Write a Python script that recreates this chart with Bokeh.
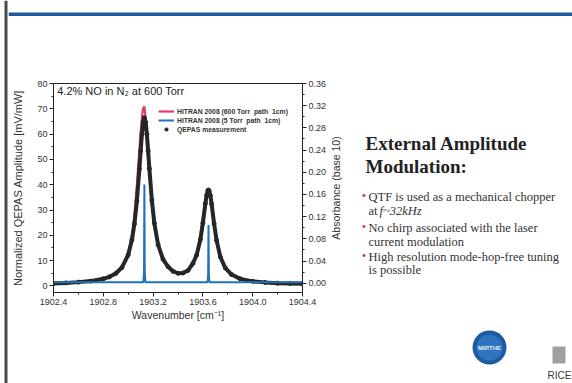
import math
from bokeh.plotting import figure
from bokeh.layouts import row, column
from bokeh.models import (Range1d, LinearAxis, FixedTicker, NumeralTickFormatter,
                          Legend, LegendItem, Label, ColumnDataSource)
from bokeh.core.properties import value
from bokeh.embed import file_html
from bokeh.resources import INLINE

# ---------------- data ----------------
qepas_wn = [1902.40, 1902.50, 1902.60, 1902.70, 1902.80, 1902.85, 1902.90, 1902.95,
            1903.00, 1903.03, 1903.05, 1903.07, 1903.09, 1903.10, 1903.11, 1903.12,
            1903.13, 1903.14, 1903.15, 1903.16, 1903.17, 1903.19, 1903.21, 1903.24,
            1903.28, 1903.32, 1903.36, 1903.40, 1903.44, 1903.48, 1903.52, 1903.55,
            1903.58, 1903.60, 1903.62, 1903.63, 1903.64, 1903.645, 1903.65, 1903.66,
            1903.67, 1903.69, 1903.71, 1903.74, 1903.78, 1903.83, 1903.90, 1904.00,
            1904.10, 1904.20, 1904.30, 1904.40]
qepas_amp = [1.0, 1.2, 1.5, 1.9, 2.8, 3.6, 4.9, 7.3,
             12.3, 18.2, 24.5, 33.6, 46.3, 53.3, 59.9, 64.7,
             66.5, 64.7, 60.0, 53.4, 46.4, 33.9, 24.8, 16.3,
             10.5, 7.6, 5.8, 5.0, 5.1, 6.1, 8.9, 12.2,
             18.4, 24.9, 32.6, 35.8, 37.7, 37.9, 37.6, 35.7,
             32.4, 24.6, 18.0, 11.5, 7.1, 4.5, 2.8, 1.8,
             1.4, 1.1, 1.0, 0.9]

hitran600_wn = [1902.40, 1902.60, 1902.80, 1902.90, 1902.95, 1903.00, 1903.03, 1903.05,
                1903.07, 1903.08, 1903.09, 1903.10, 1903.11, 1903.12, 1903.13, 1903.14,
                1903.15, 1903.16, 1903.17, 1903.19, 1903.21, 1903.24, 1903.28, 1903.32,
                1903.36, 1903.40, 1903.44, 1903.48, 1903.52, 1903.55, 1903.58, 1903.60,
                1903.62, 1903.63, 1903.64, 1903.65, 1903.66, 1903.67, 1903.69, 1903.71,
                1903.74, 1903.78, 1903.83, 1903.90, 1904.00, 1904.20, 1904.40]
hitran600_abs = [0.001, 0.002, 0.008, 0.018, 0.029, 0.055, 0.086, 0.123,
                 0.178, 0.210, 0.242, 0.273, 0.299, 0.315, 0.319, 0.296,
                 0.260, 0.228, 0.196, 0.141, 0.102, 0.066, 0.041, 0.028,
                 0.022, 0.018, 0.019, 0.024, 0.035, 0.054, 0.086, 0.118,
                 0.150, 0.162, 0.169, 0.166, 0.155, 0.139, 0.102, 0.073,
                 0.045, 0.026, 0.015, 0.008, 0.003, 0.001, 0.000]

hitran5_wn = [1902.40, 1903.122, 1903.127, 1903.130, 1903.133, 1903.138,
              1903.637, 1903.642, 1903.645, 1903.648, 1903.653, 1904.40]
hitran5_abs = [0.002, 0.002, 0.020, 0.178, 0.020, 0.002,
               0.002, 0.015, 0.105, 0.015, 0.002, 0.002]

x_ticks = [1902.4, 1902.8, 1903.2, 1903.6, 1904.0, 1904.4]
left_ticks = [0, 10, 20, 30, 40, 50, 60, 70, 80]
right_ticks = [0.00, 0.04, 0.08, 0.12, 0.16, 0.20, 0.24, 0.28, 0.32, 0.36]

heading = ["External Amplitude", "Modulation:"]
bullet_lines = ["QTF is used as a mechanical chopper", "at ",
                "No chirp associated with the laser", "current modulation",
                "High resolution mode-hop-free tuning", "is possible"]
italic_part = "f~32kHz"

# ---------------- page geometry ----------------
W, H = 572, 383
BAR_W = 8          # left strip with the slide border
HEAD_H = 17        # header strip with the blue rule
CHART_W = 321      # chart figure: page x 8 .. 329
TEXT_W = W - BAR_W - CHART_W
BODY_H = H - HEAD_H
FL, FR, FT, FB = 53, 305, 83, 292   # chart frame edges in page pixels
TICK_FONT = "Liberation Sans"


def deco_fig(w, h, x0, y0):
    f = figure(width=w, height=h, output_backend="svg", toolbar_location=None,
               x_range=Range1d(x0, x0 + w), y_range=Range1d(y0 + h, y0),
               x_axis_type=None, y_axis_type=None, min_border=0)
    f.outline_line_color = None
    f.grid.visible = False
    f.background_fill_color = "white"
    f.border_fill_color = "white"
    return f


# left strip
bar = deco_fig(BAR_W, H, 0, 0)
bar.quad(left=[4], right=[7], top=[0], bottom=[H], fill_color="#4a4a4a", line_color=None)

# header strip
head = deco_fig(W - BAR_W, HEAD_H, BAR_W, 0)
head.quad(left=[BAR_W], right=[W], top=[12], bottom=[15.5], fill_color="#1c5a9c", line_color=None)

# ---------------- chart ----------------
p = figure(width=CHART_W, height=BODY_H, output_backend="svg", toolbar_location=None,
           x_range=Range1d(1902.4, 1904.4), y_range=Range1d(-2.6, 80),
           min_border_left=FL - BAR_W, min_border_right=BAR_W + CHART_W - FR,
           min_border_top=FT - HEAD_H, min_border_bottom=H - FB)
p.background_fill_color = "white"
p.border_fill_color = "white"
p.outline_line_color = "#222222"
p.outline_line_width = 1
p.grid.visible = False
p.extra_y_ranges = {"abs": Range1d(-0.0166, 0.36)}


def style_axis(ax):
    ax.major_label_text_font = TICK_FONT
    ax.major_label_text_font_size = "9px"
    ax.major_label_text_color = "#333333"
    ax.axis_label_text_font = TICK_FONT
    ax.axis_label_text_font_size = "10.5px"
    ax.axis_label_text_font_style = "normal"
    ax.axis_label_text_color = "#333333"
    ax.axis_line_color = "#222222"
    ax.major_tick_line_color = "#222222"
    ax.minor_tick_line_color = "#222222"
    ax.major_tick_out = 4
    ax.major_tick_in = 0
    ax.minor_tick_out = 2
    ax.minor_tick_in = 0
    ax.major_label_standoff = 2


style_axis(p.xaxis[0])
style_axis(p.yaxis[0])
p.xaxis[0].ticker = FixedTicker(ticks=x_ticks, minor_ticks=[1902.6, 1903.0, 1903.4, 1903.8, 1904.2])
p.xaxis[0].formatter = NumeralTickFormatter(format="0.0")
p.xaxis[0].axis_label = "Wavenumber [cm\u207b\u00b9]"
p.xaxis[0].axis_label_standoff = 1

p.yaxis[0].ticker = FixedTicker(ticks=left_ticks, minor_ticks=[5, 15, 25, 35, 45, 55, 65, 75])
p.yaxis[0].axis_label = "Normalized QEPAS Amplitude [mV/mW]"
p.yaxis[0].axis_label_text_font_size = "11px"
p.yaxis[0].axis_label_standoff = 10

ra = LinearAxis(y_range_name="abs")
style_axis(ra)
ra.ticker = FixedTicker(ticks=right_ticks,
                        minor_ticks=[0.02, 0.06, 0.10, 0.14, 0.18, 0.22, 0.26, 0.30, 0.34])
ra.formatter = NumeralTickFormatter(format="0.00")
p.add_layout(ra, "right")

red = p.line(hitran600_wn, hitran600_abs, y_range_name="abs", line_color="#e0405e", line_width=2.2)
qsrc = ColumnDataSource(dict(x=qepas_wn, y=qepas_amp))
p.line("x", "y", source=qsrc, line_color="#262626", line_width=4)
blk = p.scatter("x", "y", source=qsrc, size=4, marker="circle",
                fill_color="#262626", line_color="#262626")
blue = p.line(hitran5_wn, hitran5_abs, y_range_name="abs", line_color="#2272b8", line_width=2)

legend = Legend(items=[
    LegendItem(label="HITRAN 2008 (600 Torr  path  1cm)", renderers=[red]),
    LegendItem(label="HITRAN 2008 (5 Torr  path  1cm)", renderers=[blue]),
    LegendItem(label="QEPAS measurement", renderers=[blk]),
], location=(105, 159))
legend.label_text_font = TICK_FONT
legend.label_text_font_size = "6.8px"
legend.label_text_font_style = "bold"
legend.label_text_color = "#333333"
legend.glyph_width = 16
legend.glyph_height = 8
legend.label_height = 8
legend.label_standoff = 3
legend.spacing = 1
legend.padding = 2
legend.margin = 0
legend.border_line_color = None
legend.background_fill_alpha = 0
p.add_layout(legend)

p.add_layout(Label(x=1902.43, y=79.5, text="4.2% NO in N\u2082 at 600 Torr",
                   text_baseline="top", text_font=TICK_FONT, text_font_size="11px",
                   text_color="#222222"))

# ---------------- text panel (page pixel coordinates) ----------------
tx0 = BAR_W + CHART_W
t = deco_fig(TEXT_W, BODY_H, tx0, HEAD_H)

# right axis title of the chart
t.text(x=[FR + 30], y=[(FT + FB) / 2], text=["Absorbance (base 10)"], angle=math.pi / 2,
       text_font=value(TICK_FONT), text_font_size=value("10.5px"), text_color="#333333",
       text_align="center", text_baseline="middle")

t.text(x=[365, 365], y=[143, 166], text=heading, text_font=value("Liberation Serif"),
       text_font_size=value("19px"), text_font_style="bold", text_color="#222222",
       text_baseline="alphabetic")

bl_y = [196, 210, 227, 241, 256, 269]
t.text(x=[368] * 6, y=bl_y, text=bullet_lines, text_font=value("Liberation Serif"),
       text_font_size=value("12.5px"), text_color="#333333", text_baseline="alphabetic")
t.text(x=[379], y=[bl_y[1]], text=[italic_part], text_font=value("Liberation Serif"),
       text_font_size=value("12.5px"), text_font_style="italic", text_color="#333333",
       text_baseline="alphabetic")
t.text(x=[361.5] * 3, y=[bl_y[0] - 2, bl_y[2] - 2, bl_y[4] - 2], text=["\u2022"] * 3,
       text_font=value("Liberation Sans"), text_font_size=value("11px"), text_color="#d8304c",
       text_baseline="alphabetic")

# logos
t.ellipse(x=[489], y=[347], width=34, height=34, fill_color="#1c5aa6", line_color=None)
t.ellipse(x=[489], y=[347], width=26, height=26, fill_color="#2f74bd", line_color=None)
t.text(x=[489], y=[347], text=["MIRTHE"], text_font=value(TICK_FONT), text_font_size=value("6px"),
       text_font_style="bold", text_color="#e8eef8", text_align="center", text_baseline="middle")
t.quad(left=[552], right=[565], top=[346], bottom=[363], fill_color="#a0a0a0", line_color=None)
t.text(x=[547], y=[375], text=["RICE"], text_font=value(TICK_FONT), text_font_size=value("10px"),
       text_color="#3a3a3a", text_align="left", text_baseline="alphabetic")

layout = row(bar, column(head, row(column(p), column(t))))
open("out.html", "w").write(file_html(layout, INLINE))
